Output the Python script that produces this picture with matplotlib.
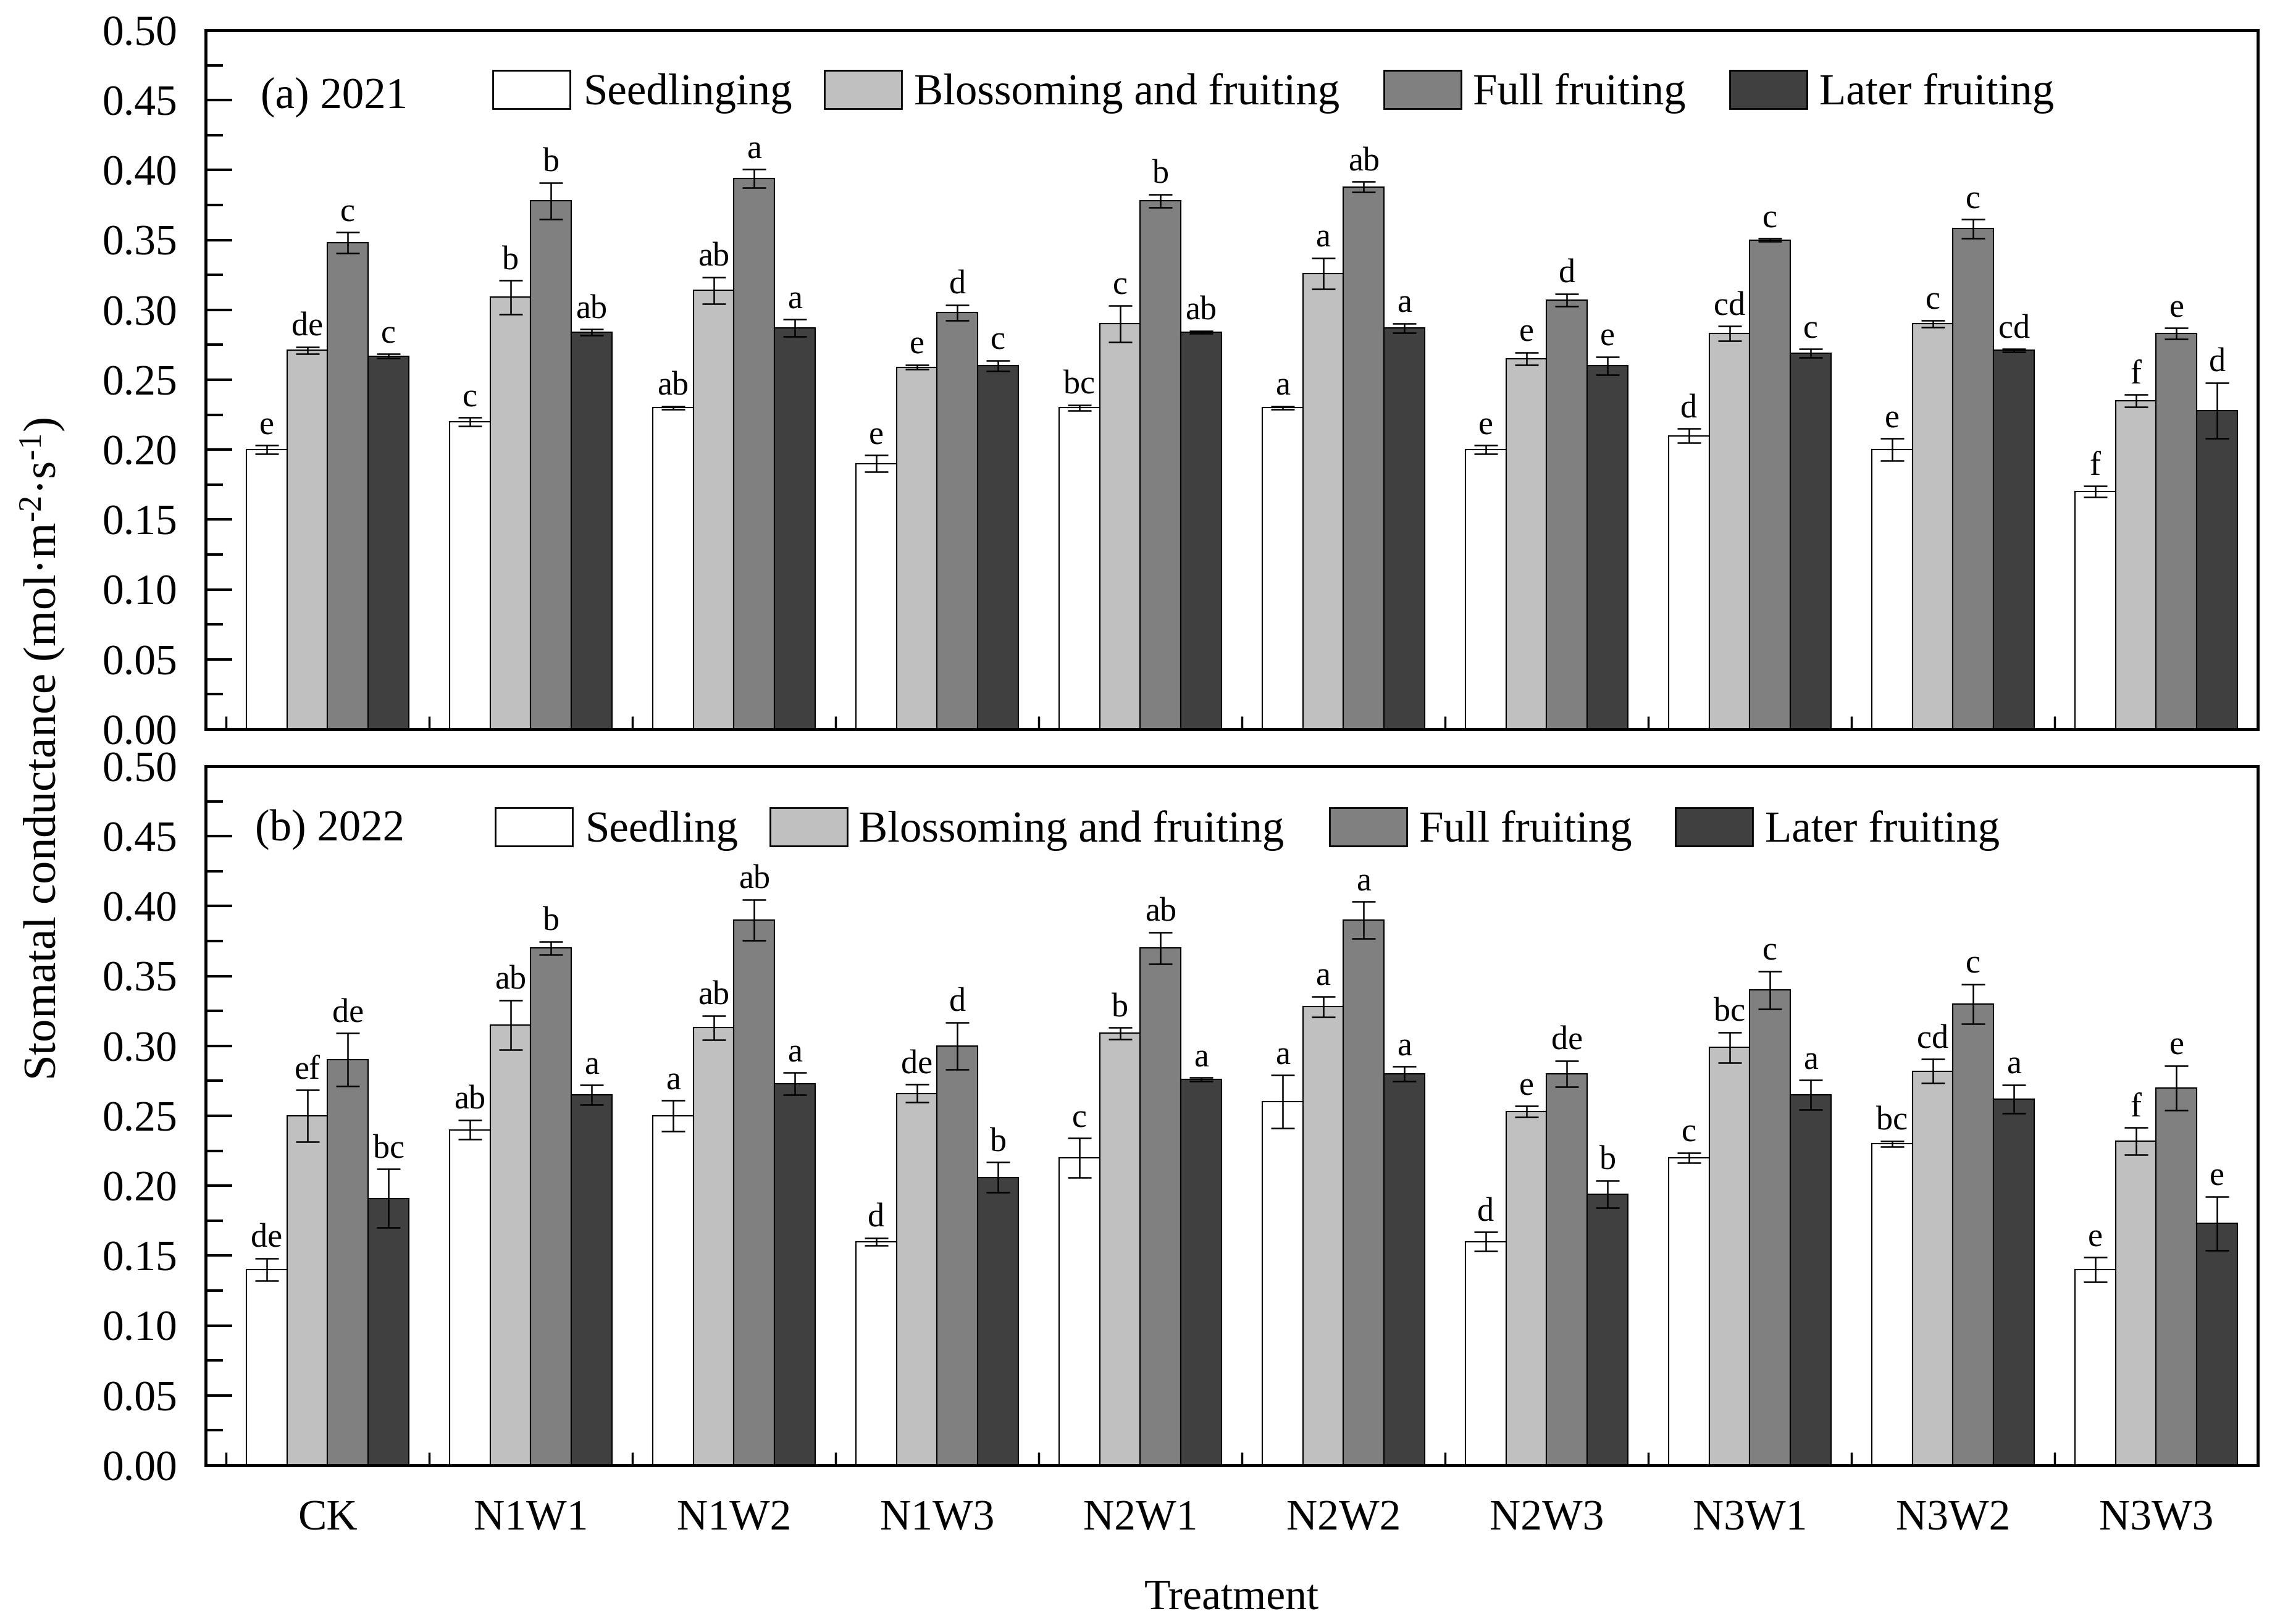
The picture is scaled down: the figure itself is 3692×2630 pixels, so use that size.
import matplotlib
matplotlib.use('Agg')
import matplotlib.pyplot as plt
from matplotlib.patches import Rectangle
from matplotlib.ticker import MultipleLocator, FixedLocator
import numpy as np

plt.rcParams['font.family'] = ['Liberation Serif', 'DejaVu Serif']
plt.rcParams['mathtext.fontset'] = 'custom'
plt.rcParams['mathtext.rm'] = 'Liberation Serif'
plt.rcParams['mathtext.it'] = 'Liberation Serif:italic'
plt.rcParams['mathtext.bf'] = 'Liberation Serif:bold'

# ---------------- data ----------------
treatments = ['CK', 'N1W1', 'N1W2', 'N1W3', 'N2W1', 'N2W2', 'N2W3', 'N3W1', 'N3W2', 'N3W3']
stages_2021 = ['Seedlinging', 'Blossoming and fruiting', 'Full fruiting', 'Later fruiting']
stages_2022 = ['Seedling', 'Blossoming and fruiting', 'Full fruiting', 'Later fruiting']
bar_colors = ['#ffffff', '#c0c0c0', '#808080', '#404040']

# 2021
seed_2021 = [0.200, 0.220, 0.230, 0.190, 0.230, 0.230, 0.200, 0.210, 0.200, 0.170]
seed_2021_err = [0.003, 0.003, 0.001, 0.006, 0.002, 0.001, 0.003, 0.005, 0.008, 0.004]
blos_2021 = [0.271, 0.309, 0.314, 0.259, 0.290, 0.326, 0.265, 0.283, 0.290, 0.235]
blos_2021_err = [0.0025, 0.012, 0.0095, 0.0017, 0.013, 0.011, 0.0045, 0.0053, 0.0024, 0.0045]
full_2021 = [0.348, 0.378, 0.394, 0.298, 0.378, 0.388, 0.307, 0.350, 0.358, 0.283]
full_2021_err = [0.0075, 0.013, 0.0065, 0.0056, 0.0047, 0.0037, 0.0044, 0.001, 0.0068, 0.004]
late_2021 = [0.267, 0.284, 0.287, 0.260, 0.284, 0.287, 0.260, 0.269, 0.271, 0.228]
late_2021_err = [0.0014, 0.002, 0.0062, 0.0037, 0.001, 0.0034, 0.0065, 0.003, 0.001, 0.020]

seed_2021_let = ['e', 'c', 'ab', 'e', 'bc', 'a', 'e', 'd', 'e', 'f']
blos_2021_let = ['de', 'b', 'ab', 'e', 'c', 'a', 'e', 'cd', 'c', 'f']
full_2021_let = ['c', 'b', 'a', 'd', 'b', 'ab', 'd', 'c', 'c', 'e']
late_2021_let = ['c', 'ab', 'a', 'c', 'ab', 'a', 'e', 'c', 'cd', 'd']

# 2022
seed_2022 = [0.140, 0.240, 0.250, 0.160, 0.220, 0.260, 0.160, 0.220, 0.230, 0.140]
seed_2022_err = [0.008, 0.007, 0.011, 0.0026, 0.014, 0.019, 0.0068, 0.0035, 0.002, 0.0087]
blos_2022 = [0.250, 0.315, 0.313, 0.266, 0.309, 0.328, 0.253, 0.299, 0.282, 0.232]
blos_2022_err = [0.0186, 0.0176, 0.0086, 0.0064, 0.0041, 0.0074, 0.004, 0.0108, 0.0085, 0.0098]
full_2022 = [0.290, 0.370, 0.390, 0.300, 0.370, 0.390, 0.280, 0.340, 0.330, 0.270]
full_2022_err = [0.019, 0.0047, 0.0147, 0.0168, 0.0112, 0.0132, 0.0094, 0.0134, 0.0141, 0.0159]
late_2022 = [0.191, 0.265, 0.273, 0.206, 0.276, 0.280, 0.194, 0.265, 0.262, 0.173]
late_2022_err = [0.0208, 0.0069, 0.0078, 0.0108, 0.0013, 0.0053, 0.0096, 0.0104, 0.0102, 0.0192]

seed_2022_let = ['de', 'ab', 'a', 'd', 'c', 'a', 'd', 'c', 'bc', 'e']
blos_2022_let = ['ef', 'ab', 'ab', 'de', 'b', 'a', 'e', 'bc', 'cd', 'f']
full_2022_let = ['de', 'b', 'ab', 'd', 'ab', 'a', 'de', 'c', 'c', 'e']
late_2022_let = ['bc', 'a', 'a', 'b', 'a', 'a', 'b', 'a', 'a', 'e']

y_ticks = [0.00, 0.05, 0.10, 0.15, 0.20, 0.25, 0.30, 0.35, 0.40, 0.45, 0.50]

# ---------------- layout ----------------
W, H = 3692, 2630
fig = plt.figure(figsize=(W / 100, H / 100), dpi=100)


def fx(px):
    return px / W


def fy(py):
    return 1 - py / H


AX_L, AX_R = 333, 3656
panels = [
    dict(top=49, bot=1181, label='(a) 2021', lab_x=422, lab_y=175,
         stages=stages_2021,
         vals=[seed_2021, blos_2021, full_2021, late_2021],
         errs=[seed_2021_err, blos_2021_err, full_2021_err, late_2021_err],
         lets=[seed_2021_let, blos_2021_let, full_2021_let, late_2021_let],
         box_x=[798, 1335, 2241, 2801], txt_x=[944, 1480, 2385, 2946],
         box_top=114, box_bot=176, txt_y=169, show_x=False),
    dict(top=1241, bot=2373, label='(b) 2022', lab_x=413, lab_y=1361,
         stages=stages_2022,
         vals=[seed_2022, blos_2022, full_2022, late_2022],
         errs=[seed_2022_err, blos_2022_err, full_2022_err, late_2022_err],
         lets=[seed_2022_let, blos_2022_let, full_2022_let, late_2022_let],
         box_x=[802, 1247, 2153, 2713], txt_x=[947, 1390, 2298, 2858],
         box_top=1308, box_bot=1370, txt_y=1363, show_x=True),
]

x = np.arange(len(treatments))
bw = 0.2
offsets = [-1.5 * bw, -0.5 * bw, 0.5 * bw, 1.5 * bw]

for p in panels:
    ax = fig.add_axes([fx(AX_L), fy(p['bot']), fx(AX_R - AX_L), (p['bot'] - p['top']) / H])
    for k in range(4):
        xs = x + offsets[k]
        ax.bar(xs, p['vals'][k], width=bw, color=bar_colors[k], edgecolor='black',
               linewidth=1.5, zorder=2)
        ax.errorbar(xs, p['vals'][k], yerr=p['errs'][k], fmt='none', ecolor='black',
                    elinewidth=1.8, capsize=13.5, capthick=1.8, zorder=3)
        for xi, v, e, t in zip(xs, p['vals'][k], p['errs'][k], p['lets'][k]):
            ax.annotate(t, (xi, v + e), xytext=(0, 13), textcoords='offset points',
                        ha='center', va='baseline', fontsize=39, zorder=4)

    ax.set_xlim(-0.6, 9.5)
    ax.set_ylim(0, 0.5)
    ax.yaxis.set_major_locator(FixedLocator(y_ticks))
    ax.yaxis.set_minor_locator(MultipleLocator(0.025))
    ax.set_yticklabels(['%.2f' % v for v in y_ticks])
    ax.set_xticks(x)
    ax.xaxis.set_minor_locator(FixedLocator(np.arange(-0.5, 9.0, 1.0)))
    if p['show_x']:
        ax.set_xticklabels(treatments)
    else:
        ax.set_xticklabels([])
    ax.tick_params(axis='y', which='major', direction='in', length=31, width=3,
                   labelsize=50, pad=33, right=False)
    ax.tick_params(axis='y', which='minor', direction='in', length=20, width=3, right=False)
    ax.tick_params(axis='x', which='major', length=0, labelsize=50, pad=40, top=False)
    ax.tick_params(axis='x', which='minor', direction='in', length=15, width=2.5, top=False)
    for s in ax.spines.values():
        s.set_linewidth(3.5)

    # panel label
    fig.text(fx(p['lab_x']), fy(p['lab_y']), p['label'], fontsize=51,
             ha='left', va='baseline')
    # legend (manual)
    for k in range(4):
        bx = p['box_x'][k]
        fig.patches.append(Rectangle((fx(bx), fy(p['box_bot'])), fx(125),
                                     (p['box_bot'] - p['box_top']) / H,
                                     facecolor=bar_colors[k], edgecolor='black',
                                     linewidth=2, transform=fig.transFigure, figure=fig))
        fig.text(fx(p['txt_x'][k]), fy(p['txt_y']), p['stages'][k], fontsize=51,
                 ha='left', va='baseline')

fig.text(fx(70), fy(1213), r'Stomatal conductance (mol·m$^{\text{-2}}$·s$^{\text{-1}}$)',
         rotation=90, ha='center', va='center', fontsize=54)
fig.text(fx(1994), fy(2605), 'Treatment', ha='center', va='baseline', fontsize=50)

fig.savefig('out.png', dpi=100, facecolor='white')
